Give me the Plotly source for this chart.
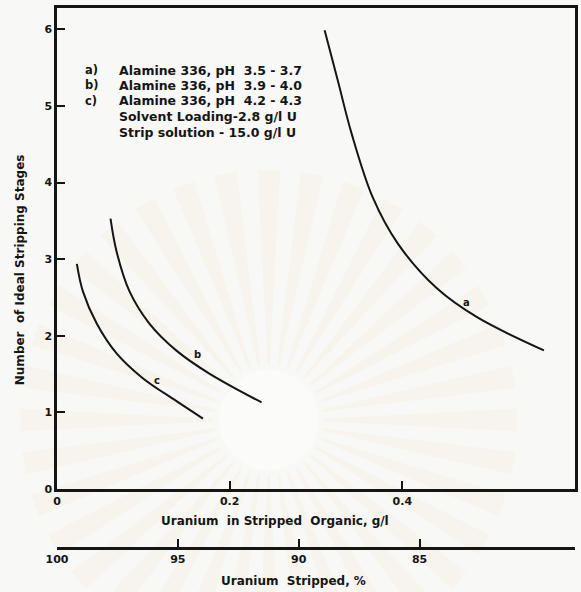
import math
import plotly.graph_objects as go

# Stage curves: uranium left in stripped organic (g/l) vs ideal stripping stages
a_x = [0.310, 0.326, 0.341, 0.366, 0.395, 0.440, 0.487, 0.564]
a_y = [5.99, 5.30, 4.65, 3.80, 3.20, 2.62, 2.24, 1.81]
b_x = [0.062, 0.069, 0.084, 0.107, 0.138, 0.176, 0.237]
b_y = [3.53, 3.10, 2.58, 2.16, 1.81, 1.51, 1.13]
c_x = [0.023, 0.030, 0.046, 0.069, 0.099, 0.138, 0.169]
c_y = [2.94, 2.58, 2.16, 1.77, 1.45, 1.15, 0.92]

curve_labels = ["a", "b", "c"]
label_x = [0.474, 0.163, 0.116]
label_y = [2.44, 1.75, 1.42]

legend_tags = ["a)", "b)", "c)", "", ""]
legend_lines = [
    "Alamine 336, pH  3.5 - 3.7",
    "Alamine 336, pH  3.9 - 4.0",
    "Alamine 336, pH  4.2 - 4.3",
    "Solvent Loading-2.8 g/l U",
    "Strip solution - 15.0 g/l U",
]

y_ticks = [0, 1, 2, 3, 4, 5, 6]
x_ticks = [0, 0.2, 0.4]
x_tick_text = ["0", "0.2", "0.4"]
pct_ticks = [100, 95, 90, 85]

LOADING = 2.8  # g/l U in loaded solvent
X_MAX = 0.6

FONT = "DejaVu Sans"
INK = "#151515"
BG = "#f8f8f6"

# plot-area geometry in pixels, used to place paper-referenced items
L, R, T, B = 57, 578, 8, 548


def px(xp):
    return (xp - L) / (R - L)


def py(yp):
    return (B - yp) / (B - T)


fig = go.Figure()

# faint sunburst emblem printed behind the chart
cx, cy = 270, 420
n_rays = 36
shapes = []
for k in range(n_rays):
    ang = 2 * math.pi * k / n_rays
    half0, half1 = math.radians(1.2), math.radians(2.6)
    r0, r1 = 55, 250
    pts = [
        (cx + r0 * math.cos(ang - half0), cy + r0 * math.sin(ang - half0)),
        (cx + r1 * math.cos(ang - half1), cy + r1 * math.sin(ang - half1)),
        (cx + r1 * math.cos(ang + half1), cy + r1 * math.sin(ang + half1)),
        (cx + r0 * math.cos(ang + half0), cy + r0 * math.sin(ang + half0)),
    ]
    path = "M " + " L ".join(f"{px(x):.4f},{py(y):.4f}" for x, y in pts) + " Z"
    shapes.append(dict(type="path", path=path, xref="paper", yref="paper", layer="below",
                       fillcolor="rgba(235,205,130,0.08)", line=dict(width=0)))
shapes.append(dict(type="circle", xref="paper", yref="paper", layer="below",
                   x0=px(cx - 50), x1=px(cx + 50), y0=py(cy + 50), y1=py(cy - 50),
                   fillcolor="rgba(255,255,255,0.4)", line=dict(width=0)))

for xs, ys in [(a_x, a_y), (b_x, b_y), (c_x, c_y)]:
    fig.add_trace(go.Scatter(x=xs, y=ys, mode="lines",
                             line=dict(color=INK, width=2, shape="spline", smoothing=1.0),
                             hoverinfo="skip", showlegend=False))

# invisible trace so the percent-stripped axis is drawn
fig.add_trace(go.Scatter(x=[100, 100 - X_MAX / LOADING * 100], y=[0, 0], xaxis="x2", mode="markers",
                         marker=dict(opacity=0), hoverinfo="skip", showlegend=False))

for t, x, y in zip(curve_labels, label_x, label_y):
    fig.add_annotation(x=x, y=y, text=t, showarrow=False,
                       font=dict(family=FONT, size=10, color=INK, weight="bold"))

leg_y = [5.47, 5.27, 5.07, 4.86, 4.66]
for tag, line, y in zip(legend_tags, legend_lines, leg_y):
    if tag:
        fig.add_annotation(x=0.030, y=y, text=tag, showarrow=False, xanchor="left",
                           font=dict(family=FONT, size=11.5, color=INK, weight="bold"))
    fig.add_annotation(x=0.070, y=y, text=line, showarrow=False, xanchor="left",
                       font=dict(family=FONT, size=12.5, color=INK, weight="bold"))

tick_font = dict(family=FONT, size=11, color=INK, weight="bold")
title_font = dict(family=FONT, size=12, color=INK, weight="bold")

fig.add_annotation(xref="paper", yref="paper", x=px(276), y=py(521), xanchor="center",
                   yanchor="middle", text="Uranium  in Stripped  Organic, g/l", showarrow=False,
                   font=title_font)
fig.add_annotation(xref="paper", yref="paper", x=px(295), y=py(581), xanchor="center",
                   yanchor="middle", text="Uranium  Stripped, %", showarrow=False, font=title_font)
fig.add_annotation(xref="paper", yref="paper", x=px(20), y=py(270), xanchor="center",
                   yanchor="middle", text="Number  of Ideal Stripping Stages", showarrow=False,
                   textangle=-90, font=title_font)

fig.update_layout(
    width=581, height=592,
    margin=dict(l=L, r=581 - R, t=T, b=592 - B),
    paper_bgcolor=BG, plot_bgcolor=BG,
    shapes=shapes,
    xaxis=dict(range=[0, X_MAX], tickvals=x_ticks, ticktext=x_tick_text, ticks="inside", ticklen=8,
               tickwidth=2, tickcolor=INK, showline=True, linecolor=INK, linewidth=2.5, mirror=True,
               showgrid=False, zeroline=False, tickfont=tick_font, anchor="y"),
    yaxis=dict(range=[0, 6.28], domain=[py(489), 1], tickvals=y_ticks, ticks="inside",
               ticklen=8, tickwidth=2, tickcolor=INK, showline=True, linecolor=INK, linewidth=2.5,
               mirror=True, showgrid=False, zeroline=False, tickfont=tick_font),
    xaxis2=dict(overlaying="x", anchor="free", position=0, side="bottom",
                range=[100, 100 - X_MAX / LOADING * 100], tickvals=pct_ticks, ticks="inside",
                ticklen=8, tickwidth=2, tickcolor=INK, showline=True, linecolor=INK, linewidth=2.5,
                showgrid=False, zeroline=False, tickfont=tick_font),
)

fig.write_html("out.html")
